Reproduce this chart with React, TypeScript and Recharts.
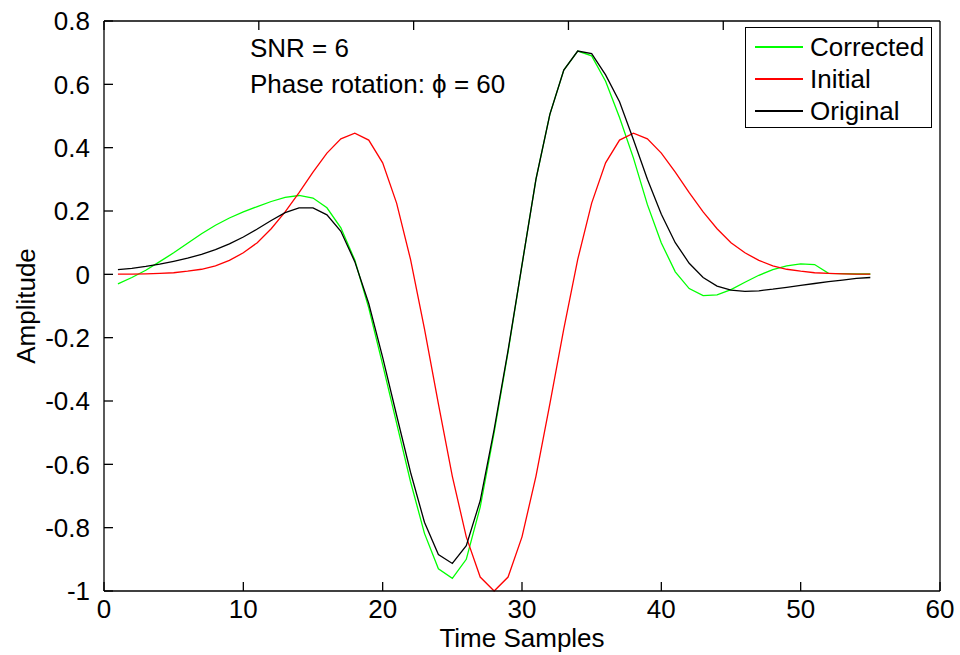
import { LineChart, Line, XAxis, YAxis, Legend } from 'recharts'

const samples = [
  1, 2, 3, 4, 5, 6, 7, 8, 9, 10, 11, 12, 13, 14, 15, 16, 17, 18, 19, 20,
  21, 22, 23, 24, 25, 26, 27, 28, 29, 30, 31, 32, 33, 34, 35, 36, 37, 38, 39, 40,
  41, 42, 43, 44, 45, 46, 47, 48, 49, 50, 51, 52, 53, 54, 55,
]

const corrected = [
  -0.03, -0.01, 0.013, 0.04, 0.068, 0.098, 0.128, 0.155, 0.178, 0.197,
  0.214, 0.23, 0.243, 0.249, 0.241, 0.21, 0.147, 0.045, -0.106, -0.285,
  -0.47, -0.655, -0.818, -0.93, -0.96, -0.9, -0.735, -0.5, -0.245, 0.03,
  0.3, 0.505, 0.645, 0.705, 0.69, 0.61, 0.495, 0.367, 0.22, 0.099,
  0.008, -0.045, -0.067, -0.065, -0.048, -0.025, -0.003, 0.015, 0.027, 0.033,
  0.031, 0.003, 0.002, 0.001, 0.001,
]

const initial = [
  0.0004, 0.0008, 0.0015, 0.003, 0.005, 0.01, 0.016, 0.027, 0.044, 0.068,
  0.1, 0.144, 0.197, 0.258, 0.323, 0.383, 0.428, 0.446, 0.424, 0.352,
  0.225, 0.047, -0.172, -0.409, -0.638, -0.829, -0.956, -1.0, -0.956, -0.829,
  -0.638, -0.409, -0.172, 0.047, 0.225, 0.352, 0.424, 0.446, 0.428, 0.383,
  0.323, 0.258, 0.197, 0.144, 0.1, 0.068, 0.044, 0.027, 0.016, 0.01,
  0.005, 0.003, 0.0015, 0.0008, 0.0004,
]

const original = [
  0.015, 0.019, 0.025, 0.032, 0.041, 0.051, 0.063, 0.078, 0.096, 0.118,
  0.143, 0.17, 0.195, 0.21, 0.21, 0.188, 0.136, 0.04, -0.092, -0.262,
  -0.445, -0.625, -0.783, -0.885, -0.913, -0.857, -0.715, -0.49, -0.24, 0.03,
  0.3, 0.505, 0.645, 0.705, 0.697, 0.63, 0.545, 0.425, 0.3, 0.19,
  0.1, 0.035, -0.01, -0.037, -0.05, -0.054, -0.052, -0.047, -0.041, -0.035,
  -0.029, -0.023, -0.018, -0.013, -0.01,
]

const xTicks = [0, 10, 20, 30, 40, 50, 60]
const yTicks = [-1, -0.8, -0.6, -0.4, -0.2, 0, 0.2, 0.4, 0.6, 0.8]
const seriesNames = ['Corrected', 'Initial', 'Original']
const seriesKeys = ['corrected', 'initial', 'original']
const seriesColors = ['#00ff00', '#ff0000', '#000000']

const data = samples.map((x, i) => ({
  x,
  corrected: corrected[i],
  initial: initial[i],
  original: original[i],
}))

const FONT = '"Liberation Sans", Arial, Helvetica, sans-serif'
const tickStyle = { fill: '#000', fontSize: 26, fontFamily: FONT }

const LegendBox = () => (
  <div
    style={{
      border: '1px solid #000',
      background: '#fff',
      width: 187,
      height: 101,
      paddingTop: 3,
      boxSizing: 'border-box',
      fontFamily: FONT,
    }}
  >
    {seriesNames.map((name, i) => (
      <div key={name} style={{ display: 'flex', alignItems: 'center', height: 32 }}>
        <div style={{ marginLeft: 9, width: 48, height: 1.3, background: seriesColors[i] }} />
        <span style={{ marginLeft: 7, fontSize: 26, lineHeight: '32px', color: '#000' }}>{name}</span>
      </div>
    ))}
  </div>
)

export default function App() {
  return (
    <div
      style={{
        position: 'absolute',
        left: 0,
        top: 0,
        width: 960,
        height: 655,
        background: '#fff',
        fontFamily: FONT,
      }}
    >
      <LineChart width={960} height={655} data={data} margin={{ top: 20, right: 19, bottom: 0, left: 0 }}>
        <XAxis
          dataKey="x"
          type="number"
          domain={[0, 60]}
          ticks={xTicks}
          height={64}
          stroke="#000"
          strokeWidth={1.3}
          tickSize={-9}
          tickMargin={18}
          tick={tickStyle}
          label={{ value: 'Time Samples', position: 'insideBottom', offset: 8, fill: '#000', fontSize: 26 }}
        />
        <XAxis
          xAxisId="top"
          orientation="top"
          type="number"
          domain={[0, 60]}
          ticks={xTicks}
          height={1}
          stroke="#000"
          strokeWidth={1.3}
          tickSize={-9}
          tickFormatter={() => ''}
        />
        <YAxis
          type="number"
          domain={[-1, 0.8]}
          ticks={yTicks}
          width={104}
          stroke="#000"
          strokeWidth={1.3}
          tickSize={-9}
          tickMargin={23}
          tick={tickStyle}
          label={{
            value: 'Amplitude',
            angle: -90,
            position: 'insideLeft',
            offset: 26,
            fill: '#000',
            fontSize: 26,
            style: { textAnchor: 'middle' },
          }}
        />
        <YAxis
          yAxisId="right"
          orientation="right"
          type="number"
          domain={[-1, 0.8]}
          ticks={yTicks}
          width={1}
          stroke="#000"
          strokeWidth={1.3}
          tickSize={-9}
          tickFormatter={() => ''}
        />
        {seriesKeys.map((key, i) => (
          <Line
            key={key}
            type="linear"
            dataKey={key}
            name={seriesNames[i]}
            stroke={seriesColors[i]}
            strokeWidth={1.3}
            dot={false}
            isAnimationActive={false}
          />
        ))}
        <Legend
          layout="vertical"
          align="center"
          verticalAlign="middle"
          content={<LegendBox />}
          wrapperStyle={{ left: 745, top: 27, width: 189 }}
        />
      </LineChart>
      <div style={{ position: 'absolute', left: 250, top: 33, fontSize: 26, lineHeight: '30px', whiteSpace: 'nowrap' }}>
        SNR = 6
      </div>
      <div style={{ position: 'absolute', left: 250, top: 69, fontSize: 26, lineHeight: '30px', whiteSpace: 'nowrap' }}>
        Phase rotation: ϕ = 60
      </div>
    </div>
  )
}
